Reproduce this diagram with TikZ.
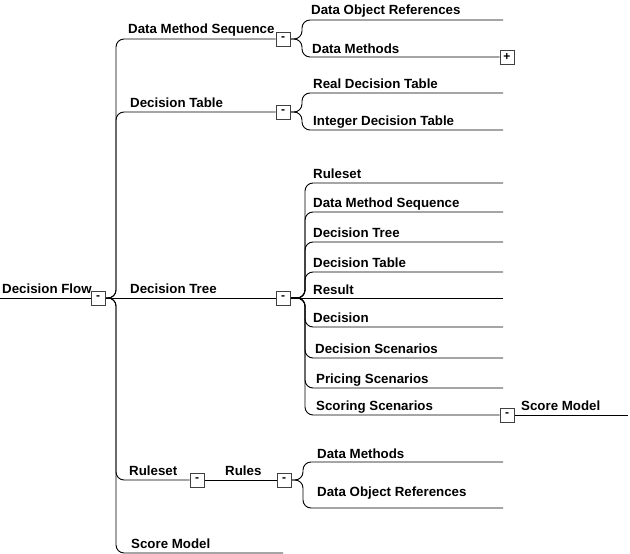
\documentclass[tikz,border=0pt]{standalone}
\usepackage{fontspec}
\setmainfont{Liberation Sans}
\begin{document}
\begin{tikzpicture}[x=1pt,y=-1pt]
\tikzset{
 lbl/.style={anchor=base west, inner sep=0, font=\bfseries\fontsize{13.3}{14}\selectfont},
 tbox/.style={draw=black!75, line width=0.8pt, fill=white, minimum size=14pt, inner sep=0, font=\bfseries\fontsize{12}{12}\selectfont},
 conn/.style={line width=0.9pt, rounded corners=8pt},
}
\useasboundingbox (0,0) rectangle (630,554);
% root
\coordinate (s0) at (0,298);
\node[lbl] (t0) at (2,293) {Decision Flow};
\coordinate (e5) at (283,553);
% boxes
\node[tbox] (b0) at (98,298) {-};
\node[tbox] (b1) at (283,39) {-};
\node[tbox] (b2) at (283,112) {-};
\node[tbox] (b3) at (283,298) {-};
\node[tbox] (b4) at (197,480) {-};
\node[tbox] (b4b) at (284,480) {-};
\node[tbox] (p12) at (507,57) {+};
\node[tbox] (b39) at (507,415) {-};
% level 1 connectors
\draw[conn] (s0) -- (b0.west);
\draw[conn] (b0.east) -- (116,298) -- (116,39) -- (b1.west);
\draw[conn] (b0.east) -- (116,298) -- (116,112) -- (b2.west);
\draw[conn] (b0.east) -- (b3.west);
\draw[conn] (b0.east) -- (116,298) -- (116,480) -- (b4.west);
\draw[conn] (b0.east) -- (116,298) -- (116,553) -- (e5);
\draw[conn] (b4.east) -- (b4b.west);
\node[lbl] (t1) at (128,34) {Data Method Sequence};
\node[lbl] (t2) at (130,107) {Decision Table};
\node[lbl] (t3) at (130,293) {Decision Tree};
\node[lbl] (t4) at (129,475) {Ruleset};
\node[lbl] (t4b) at (225,475) {Rules};
\node[lbl] (t5) at (131,548) {Score Model};
% Data Method Sequence children
\coordinate (e11) at (503,20);
\draw[conn] (b1.east) -- (302,39) -- (302,20) -- (e11);
\draw[conn] (b1.east) -- (302,39) -- (302,57) -- (p12.west);
\node[lbl] (t11) at (311,15) {Data Object References};
\node[lbl] (t12) at (312,53) {Data Methods};
% Decision Table children
\coordinate (e21) at (503,93);
\coordinate (e22) at (503,130);
\draw[conn] (b2.east) -- (302,112) -- (302,93) -- (e21);
\draw[conn] (b2.east) -- (302,112) -- (302,130) -- (e22);
\node[lbl] (t21) at (313,88) {Real Decision Table};
\node[lbl] (t22) at (313,125) {Integer Decision Table};
% Decision Tree children
\foreach \yy/\nm in {183/31,212/32,242/33,272/34,327/36,358/37,388/38}{
  \coordinate (e\nm) at (503,\yy);
  \draw[conn] (b3.east) -- (305,298) -- (305,\yy) -- (e\nm);
}
\coordinate (e35) at (503,298);
\draw[conn] (b3.east) -- (e35);
\draw[conn] (b3.east) -- (305,298) -- (305,415) -- (b39.west);
\node[lbl] (t31) at (313,178) {Ruleset};
\node[lbl] (t32) at (313,207) {Data Method Sequence};
\node[lbl] (t33) at (313,237) {Decision Tree};
\node[lbl] (t34) at (313,267) {Decision Table};
\node[lbl] (t35) at (313,294) {Result};
\node[lbl] (t36) at (313,322) {Decision};
\node[lbl] (t37) at (315,353) {Decision Scenarios};
\node[lbl] (t38) at (316,383) {Pricing Scenarios};
\node[lbl] (t39) at (316,410) {Scoring Scenarios};
\coordinate (e40) at (628,415);
\draw[conn] (b39.east) -- (e40);
\node[lbl] (t40) at (521,410) {Score Model};
% Rules children
\coordinate (e41) at (503,462);
\coordinate (e42) at (503,508);
\draw[conn] (b4b.east) -- (303,480) -- (303,462) -- (e41);
\draw[conn] (b4b.east) -- (303,480) -- (303,508) -- (e42);
\node[lbl] (t41) at (317,458) {Data Methods};
\node[lbl] (t42) at (317,496) {Data Object References};
% boxes on top of connectors
\node[tbox] at (b0) {-};
\node[tbox] at (b1) {-};
\node[tbox] at (b2) {-};
\node[tbox] at (b3) {-};
\node[tbox] at (b4) {-};
\node[tbox] at (b4b) {-};
\node[tbox] at (p12) {+};
\node[tbox] at (b39) {-};
\end{tikzpicture}
\end{document}
